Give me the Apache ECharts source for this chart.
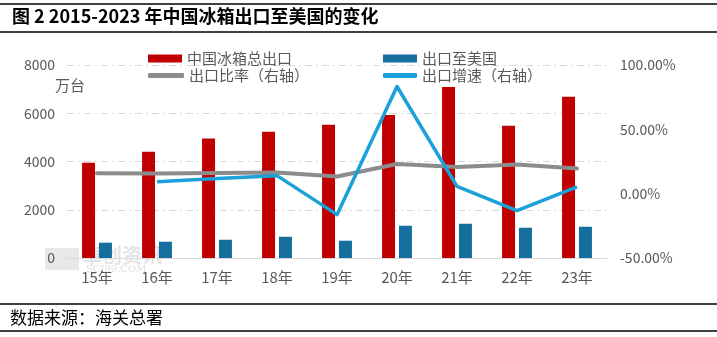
<!DOCTYPE html>
<html>
<head>
<meta charset="utf-8">
<script src="https://cdn.jsdelivr.net/npm/echarts@6/dist/echarts.min.js"></script>
<style>
html,body{margin:0;padding:0;background:#fff;}
#c{width:717px;height:337px;}
</style>
</head>
<body>
<div id="c"></div>
<script>
var categories = ['15年','16年','17年','18年','19年','20年','21年','22年','23年'];
var totalExport = [3950, 4400, 4950, 5230, 5520, 5930, 7090, 5480, 6680];
var usExport = [635, 675, 757, 880, 716, 1337, 1420, 1254, 1295];
var exportRatio = [15.8, 15.6, 16.0, 16.5, 13.4, 23.0, 20.7, 22.7, 19.6];
var exportGrowth = [null, 9.3, 11.8, 14.0, -16.3, 83.3, 5.7, -13.2, 5.2];
var leftTicks = [0, 2000, 4000, 6000, 8000];
var rightTicks = [-50, 0, 50, 100];

var FONT = '"Noto Sans CJK SC", "Noto Sans", sans-serif';
var TXT = '#595959';

var chart = echarts.init(document.getElementById('c'), null, {renderer: 'canvas'});

function legendAt(name, left, top, icon, w, h) {
  return {
    data: [name], left: left, top: top, icon: icon,
    itemWidth: w, itemHeight: h, itemGap: 0, padding: 0,
    selectedMode: false,
    textStyle: {color: TXT, fontSize: 15, fontFamily: FONT, padding: [0, 0, 0, 0]}
  };
}

var option = {
  backgroundColor: '#fff',
  animation: false,
  textStyle: {fontFamily: FONT},
  grid: {left: 67, right: 110, top: 65, bottom: 79, containLabel: false},
  legend: [
    legendAt('中国冰箱总出口', 148, 51, 'rect', 34, 8),
    legendAt('出口至美国', 383, 51, 'rect', 34, 8),
    legendAt('出口比率（右轴）', 148, 68, 'roundRect', 36, 5),
    legendAt('出口增速（右轴）', 383, 68, 'roundRect', 34, 5)
  ],
  xAxis: {
    type: 'category',
    data: categories,
    axisLine: {show: true, lineStyle: {color: '#d9d9d9', width: 1}},
    axisTick: {show: false},
    axisLabel: {color: TXT, fontSize: 15, margin: 12, fontFamily: FONT}
  },
  yAxis: [
    {
      type: 'value',
      min: leftTicks[0], max: leftTicks[leftTicks.length - 1], interval: 2000,
      axisLine: {show: false}, axisTick: {show: false},
      axisLabel: {color: TXT, fontSize: 14, margin: 12, fontFamily: FONT,
        formatter: function (v) { return String(v); }},
      splitLine: {show: true, lineStyle: {color: '#d9d9d9', width: 1, type: [7, 4, 2, 4]}}
    },
    {
      type: 'value',
      min: rightTicks[0], max: rightTicks[rightTicks.length - 1], interval: 50,
      axisLine: {show: false}, axisTick: {show: false},
      splitLine: {show: false},
      axisLabel: {
        color: TXT, fontSize: 14, margin: 13, fontFamily: FONT,
        formatter: function (v) { return v.toFixed(2) + '%'; }
      }
    }
  ],
  series: [
    {
      name: '中国冰箱总出口', type: 'bar', data: totalExport,
      barWidth: 13, barGap: '30%',
      itemStyle: {color: '#C00000'}
    },
    {
      name: '出口至美国', type: 'bar', data: usExport,
      barWidth: 13, barGap: '30%',
      itemStyle: {color: '#156E9E'}
    },
    {
      name: '出口比率（右轴）', type: 'line', yAxisIndex: 1, data: exportRatio,
      symbol: 'none', lineStyle: {color: '#8C8C8C', width: 4, cap: 'round', join: 'round'},
      itemStyle: {color: '#8C8C8C'}, z: 3
    },
    {
      name: '出口增速（右轴）', type: 'line', yAxisIndex: 1, data: exportGrowth,
      symbol: 'none', connectNulls: false,
      lineStyle: {color: '#1BA1DA', width: 3.5, join: 'round'},
      itemStyle: {color: '#1BA1DA'}, z: 4
    }
  ],
  graphic: [
    {type: 'line', shape: {x1: 0, y1: 4, x2: 717, y2: 4}, style: {stroke: '#000', lineWidth: 1.5}},
    {type: 'line', shape: {x1: 0, y1: 32, x2: 717, y2: 32}, style: {stroke: '#000', lineWidth: 1.5}},
    {type: 'line', shape: {x1: 0, y1: 304, x2: 717, y2: 304}, style: {stroke: '#000', lineWidth: 1.5}},
    {type: 'line', shape: {x1: 0, y1: 331, x2: 717, y2: 331}, style: {stroke: '#000', lineWidth: 1.5}},
    {type: 'text', left: 12, top: 7, style: {text: '图 2 2015-2023 年中国冰箱出口至美国的变化', font: 'bold 18px ' + FONT, fill: '#000'}},
    {type: 'text', left: 10, top: 309, style: {text: '数据来源：海关总署', font: '17px ' + FONT, fill: '#000'}},
    {type: 'text', left: 55, top: 78, style: {text: '万台', font: '15px ' + FONT, fill: TXT}},
    {type: 'group', z: -1, silent: true, children: [
      {type: 'rect', shape: {x: 45, y: 248, width: 34, height: 22}, style: {fill: '#d9d9d9', opacity: 0.6}},
      {type: 'text', x: 82, y: 245, style: {text: '卓创资讯', font: 'bold 20px ' + FONT, fill: '#d9d9d9', opacity: 0.7}},
      {type: 'text', x: 86, y: 264, style: {text: 'SCI99.COM', font: '10px "DejaVu Serif", serif', fill: '#d0d0d0', opacity: 0.7}}
    ]}
  ]
};
chart.setOption(option);
</script>
</body>
</html>
